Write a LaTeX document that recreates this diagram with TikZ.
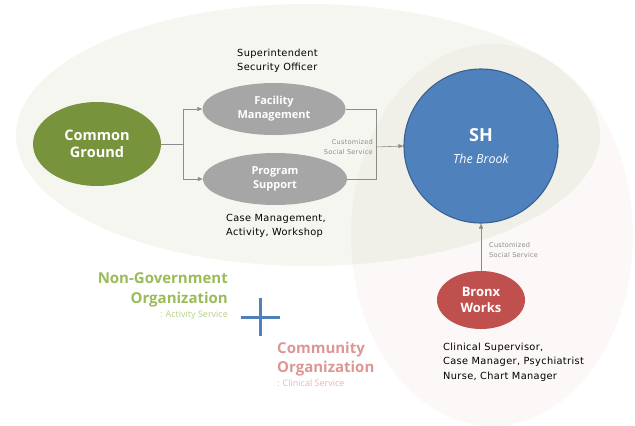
\documentclass[tikz,border=0pt]{standalone}
\usepackage{fontspec}
\setmainfont{Open Sans}
\newfontfamily\notefont[LetterSpace=3.5]{DejaVu Sans}
\usetikzlibrary{shapes.geometric,arrows.meta}
\definecolor{zoneA}{HTML}{F6F6F1}
\definecolor{zoneB}{HTML}{FCF8F7}
\definecolor{zoneAB}{HTML}{F0F0E8}
\definecolor{cgGreen}{HTML}{77933C}
\definecolor{unitGray}{HTML}{A6A6A6}
\definecolor{shBlue}{HTML}{4F81BD}
\definecolor{shEdge}{HTML}{3A6192}
\definecolor{bxRed}{HTML}{C0504D}
\definecolor{lineGray}{HTML}{8C8C8C}
\definecolor{ngoGreen}{HTML}{9BBB59}
\definecolor{ngoLight}{HTML}{B5CF86}
\definecolor{coPink}{HTML}{DC9795}
\definecolor{coLight}{HTML}{E8B4B2}
\tikzset{
  blob/.style={ellipse, inner sep=0pt, text=white, align=center, font=\bfseries},
  conn/.style={draw=lineGray, line width=0.6pt},
  arr/.style={conn, -{Triangle[length=5pt,width=4pt]}},
  note/.style={inner sep=0pt, font=\notefont\fontsize{9.8}{14.5}\selectfont, align=left},
  tiny/.style={inner sep=0pt, text=lineGray, font=\notefont\fontsize{6.6}{10}\selectfont},
}
\begin{document}
\begin{tikzpicture}[x=1pt,y=-1pt]
\useasboundingbox (0,0) rectangle (635,426);
% background zones
\fill[zoneA] (308,135) ellipse [x radius=292pt, y radius=131pt];
\fill[zoneB] (492,235) ellipse [x radius=141pt, y radius=191pt];
\begin{scope}
  \clip (308,135) ellipse [x radius=292pt, y radius=131pt];
  \fill[zoneAB] (492,235) ellipse [x radius=141pt, y radius=191pt];
\end{scope}

% organisations
\node[blob, fill=cgGreen, minimum width=128pt, minimum height=84pt,
      font=\bfseries\fontsize{14.5}{17.5}\selectfont] (cg) at (97,144) {Common\\Ground};
\node[blob, fill=unitGray, minimum width=143pt, minimum height=52pt,
      font=\bfseries\fontsize{11}{14}\selectfont] (fm) at (274,109) {Facility\\Management};
\node[blob, fill=unitGray, minimum width=144pt, minimum height=52pt,
      font=\bfseries\fontsize{11}{14}\selectfont] (ps) at (275,179) {Program\\Support};
\node[circle, inner sep=0pt, minimum size=154pt, fill=shBlue, draw=shEdge,
      line width=1.1pt, text=white, align=center] (sh) at (481,146)
      {{\bfseries\fontsize{18}{20}\selectfont SH}\\[10pt]{\itshape\fontsize{12.5}{14}\selectfont The Brook}};
\node[blob, fill=bxRed, minimum width=88pt, minimum height=58pt,
      font=\bfseries\fontsize{13}{16}\selectfont] (bw) at (481,300) {Bronx\\Works};

% connectors
\coordinate (jl) at (183,144);
\coordinate (jr) at (376,147);
\draw[conn] (cg.east) -- (jl);
\draw[arr] (jl) |- (fm.west);
\draw[arr] (jl) |- (ps.west);
\draw[conn] (fm.east) -| (jr);
\draw[conn] (ps.east) -| (jr);
\draw[arr] (jr) -- (sh.west);
\draw[arr] (bw.north) -- (sh.south);

\node[tiny, anchor=east, align=right] (lblA) at (373,147) {Customized\\Social Service};
\node[tiny, anchor=west, align=left] (lblB) at (489,250) {Customized\\Social Service};

% staff notes
\node[note, anchor=west] (noteFM) at (237,61) {Superintendent\\Security Officer};
\node[note, anchor=west] (notePS) at (226,226) {Case Management,\\Activity, Workshop};
\node[note, anchor=west] (noteBW) at (443,362) {Clinical Supervisor,\\Case Manager, Psychiatrist\\Nurse, Chart Manager};

% legend
\node[inner sep=0pt, anchor=base east, text=ngoGreen, font=\bfseries\fontsize{15}{18}\selectfont] (ngo1) at (228,283.5) {Non-Government};
\node[inner sep=0pt, anchor=base east, text=ngoGreen, font=\bfseries\fontsize{15}{18}\selectfont] (ngo2) at (228,303.5) {Organization};
\node[inner sep=0pt, anchor=base east, text=ngoLight, font=\fontsize{9}{11}\selectfont] (ngo3) at (228,317.5) {: Activity Service};

\draw[shBlue, line width=3pt] (241,317) -- (280,317);
\draw[shBlue, line width=3pt] (260,298) -- (260,336);

\node[inner sep=0pt, anchor=base west, text=coPink, font=\bfseries\fontsize{15}{18}\selectfont] (co1) at (277,353.5) {Community};
\node[inner sep=0pt, anchor=base west, text=coPink, font=\bfseries\fontsize{15}{18}\selectfont] (co2) at (277,372.5) {Organization};
\node[inner sep=0pt, anchor=base west, text=coLight, font=\fontsize{9}{11}\selectfont] (co3) at (277,386.5) {: Clinical Service};
\end{tikzpicture}
\end{document}
